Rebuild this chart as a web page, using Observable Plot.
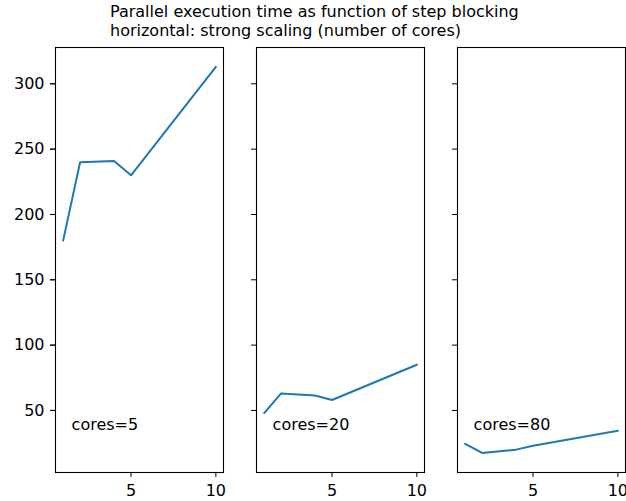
<!DOCTYPE html>
<html><head><meta charset="utf-8">
<script src="https://cdn.jsdelivr.net/npm/d3@7"></script>
<script src="https://cdn.jsdelivr.net/npm/@observablehq/plot@0.6"></script>
<style>
body{margin:0;background:#fff;font-family:"DejaVu Sans",sans-serif;}
#title{position:relative;height:40px;width:626px;}
#title div{position:absolute;left:110px;top:3px;font-size:16px;line-height:18.5px;white-space:pre;color:#000;}
</style></head><body>
<div id="title"><div>Parallel execution time as function of step blocking
horizontal: strong scaling (number of cores)</div></div>
<div id="chart"></div>
<script>
const cores = [5, 20, 80];
const steps = [1, 2, 4, 5, 10];
const time5 = [180, 240, 241, 230, 313];
const time20 = [48, 63, 61.5, 58, 85];
const time80 = [24.5, 17.5, 20, 23, 34.5];
const yTicks = [50, 100, 150, 200, 250, 300];
const xTicks = [5, 10];

const series = [time5, time20, time80];
const rows = [];
cores.forEach((c, i) => steps.forEach((s, j) => rows.push({cores: c, step: s, time: series[i][j]})));
const labels = cores.map(c => ({cores: c, label: `cores=${c}`}));

const chart = Plot.plot({
  width: 626,
  height: 461,
  marginTop: 7,
  marginBottom: 29,
  marginLeft: 54,
  marginRight: 1,
  style: {fontFamily: "DejaVu Sans", fontSize: "16px", color: "black", background: "white"},
  fx: {domain: cores, paddingInner: 0.166, paddingOuter: 0, axis: null},
  x: {domain: [0.55, 10.45]},
  y: {domain: [2.5, 327.8]},
  marks: [
    Plot.line(rows, {fx: "cores", x: "step", y: "time", stroke: "#1f77b4", strokeWidth: 2}),
    Plot.text(labels, {fx: "cores", x: 1.5, y: 35, text: "label", textAnchor: "start", lineAnchor: "bottom", fontSize: 16, fill: "black"}),
    Plot.axisY(yTicks, {tickSize: 5, tickPadding: 6, fontSize: 16, label: null}),
    Plot.axisY(yTicks, {tickSize: 5, tickFormat: () => "", facetAnchor: null, label: null}),
    Plot.axisX(xTicks, {tickSize: 5, tickPadding: 7, fontSize: 16, label: null}),
    Plot.frame({stroke: "black", strokeWidth: 1.1})
  ]
});
document.getElementById("chart").appendChild(chart);
</script>
</body></html>
